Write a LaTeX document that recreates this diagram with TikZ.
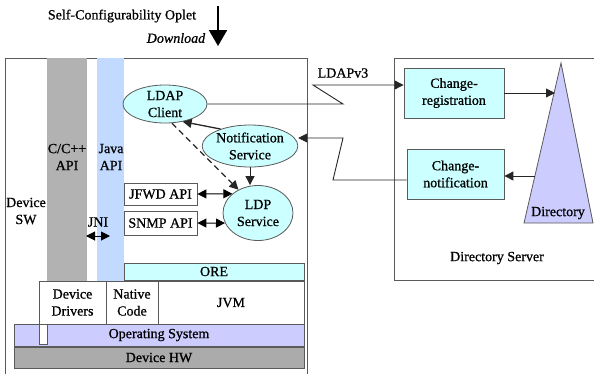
\documentclass[tikz,border=0pt]{standalone}
\usepackage{fontspec}
\setmainfont{Liberation Serif}[UprightFeatures={FakeBold=0.8}, ItalicFeatures={FakeBold=0.8}]
\usetikzlibrary{shapes,arrows.meta,positioning}

\definecolor{orecyan}{HTML}{CCFFFF}
\definecolor{oslav}{HTML}{CCCCFF}
\definecolor{colgrey}{HTML}{B2B2B2}
\definecolor{hwgrey}{HTML}{ABABAB}
\definecolor{javablue}{HTML}{C2DAFF}
\definecolor{edgegrey}{HTML}{5A5A5A}

\begin{document}
\begin{tikzpicture}[x=1pt, y=-1pt,
    every node/.style={font=\fontsize{14}{17}\selectfont, inner sep=0pt},
    lbl/.style={align=center},
    box/.style={rectangle, draw=edgegrey, line width=0.8pt, align=center},
    column/.style={rectangle, draw=none},
    blob/.style={ellipse, draw=edgegrey, line width=0.8pt, fill=orecyan, align=center},
    arrow/.style={-{Triangle[length=9pt,width=9pt]}, line width=0.9pt, draw=black!85},
    dblarrow/.style={{Triangle[length=9pt,width=9pt]}-{Triangle[length=9pt,width=9pt]}, line width=1pt}]

    \useasboundingbox (0,0) rectangle (594,373);

    \node[lbl] (oplet) at (122,16) {Self-Configurability Oplet};
    \node[lbl, font=\fontsize{14}{17}\selectfont\itshape] (download) at (176,38) {Download};
    \coordinate (dltop) at (218,6);
    \coordinate (dlbot) at (218,46);
    \draw[line width=2pt, -{Triangle[length=16pt,width=18pt]}] (dltop) -- (dlbot);

    \node[box, minimum width=302, minimum height=320] (devsw) at (156,218) {};
    \node[box, minimum width=204, minimum height=222] (dirsrv) at (496,169) {};

    \node[column, fill=colgrey, minimum width=40, minimum height=223] (ccol) at (67,169.5) {};
    \node[column, fill=javablue, minimum width=27, minimum height=223] (jcol) at (110.5,169.5) {};
    \node[lbl] (capi) at (67,157) {C/C++\\API};
    \node[lbl] (japi) at (111,157) {Java\\API};
    \node[lbl] (swlbl) at (26,211) {Device\\SW};

    \node[box, fill=white, minimum width=73, minimum height=22] (jfwd) at (160.5,194) {JFWD API};
    \node[box, fill=white, minimum width=73, minimum height=24] (snmp) at (160.5,223) {SNMP API};
    \node[lbl] (jni) at (98,222) {JNI};
    \coordinate (jnil) at (86,236);
    \coordinate (jnir) at (110,236);

    \node[blob, minimum width=84, minimum height=38] (ldap) at (165,104) {LDAP\\Client};
    \node[blob, minimum width=86, minimum height=42] (notif) at (250,146) {Notification\\Service};
    \node[blob, minimum width=70, minimum height=55] (ldp) at (258,213) {LDP\\Service};

    \node[box, fill=orecyan, minimum width=180, minimum height=17] (ore) at (214,271.5) {ORE};
    \node[box, fill=white, minimum width=67, minimum height=43] (drivers) at (72.5,302.5) {Device\\Drivers};
    \node[box, fill=white, minimum width=52, minimum height=43] (native) at (132,302.5) {Native\\Code};
    \node[box, fill=white, minimum width=146, minimum height=43] (jvm) at (231,302.5) {JVM};
    \node[box, fill=oslav, minimum width=290, minimum height=22] (os) at (159,335) {Operating System};
    \node[box, fill=white, minimum width=8, minimum height=20] (osgap) at (43,334) {};
    \node[box, fill=hwgrey, minimum width=290, minimum height=21] (hw) at (159,357.5) {Device HW};

    \node[box, fill=orecyan, minimum width=100, minimum height=50] (creg) at (454,93) {Change-\\registration};
    \node[box, fill=orecyan, minimum width=97, minimum height=50] (cnot) at (455.5,174) {Change-\\notification};
    \coordinate (dirtop) at (561,63);
    \coordinate (dirl) at (524,223);
    \coordinate (dirr) at (593,223);
    \draw[draw=edgegrey, line width=0.8pt, fill=oslav] (dirtop) -- (dirl) -- (dirr) -- cycle;
    \node[lbl] (dirlbl) at (558,213) {Directory};
    \node[lbl] (srvlbl) at (497,258) {Directory Server};
    \node[lbl] (ldapv3) at (343,73) {LDAPv3};
    \coordinate (dirin) at (555,93);
    \coordinate (dirout) at (535,176);

    \coordinate (z1) at (343,104);
    \coordinate (z2) at (313,85);
    \coordinate (z3) at (333,180);
    \coordinate (z4) at (343,138);

    \draw[arrow] (ldap.east) -- (z1) -- (z2) -- (creg.west |- z2);
    \draw[arrow] (cnot.west |- z3) -- (z3) -- (z4) -- (notif.east |- z4);
    \draw[arrow] (creg) -- (dirin);
    \draw[arrow] (dirout) -- (cnot.east |- dirout);
    \draw[arrow, line width=1.3pt] (notif.150) -- (ldap.-45);
    \draw[arrow] (notif.south) -- (notif.south |- ldp.north);
    \draw[arrow, line width=1.3pt, dash pattern=on 6pt off 4pt] (ldap.-70) -- (ldp.130);
    \draw[dblarrow] (jfwd.east) -- (ldp.143);
    \draw[dblarrow] (snmp.east) -- (ldp.197);
    \draw[dblarrow] (jnil) -- (jnir);
\end{tikzpicture}
\end{document}
